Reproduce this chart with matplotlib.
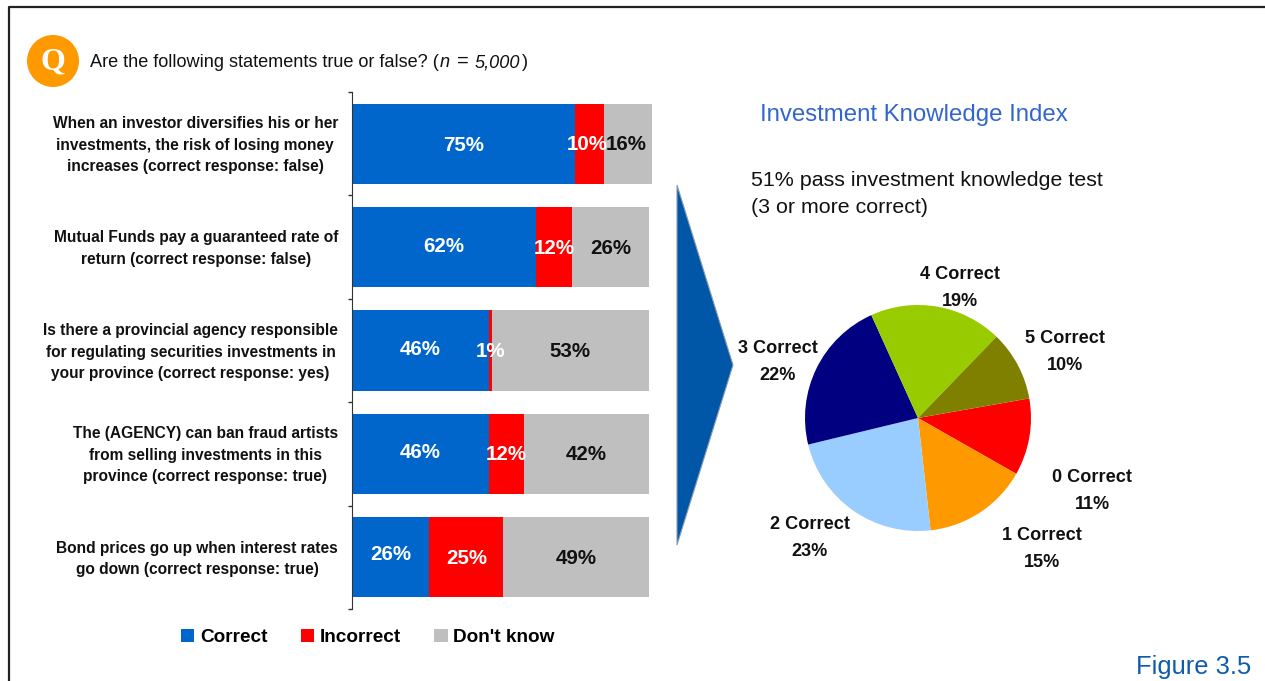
import matplotlib
matplotlib.use("Agg")
import matplotlib.pyplot as plt
from matplotlib.patches import Circle, Polygon

plt.rcParams['font.family'] = ['Liberation Sans', 'DejaVu Sans']

questions = [
    "When an investor diversifies his or her\ninvestments, the risk of losing money\nincreases (correct response: false)",
    "Mutual Funds pay a guaranteed rate of\nreturn (correct response: false)",
    "Is there a provincial agency responsible\nfor regulating securities investments in\nyour province (correct response: yes)",
    "The (AGENCY) can ban fraud artists\nfrom selling investments in this\nprovince (correct response: true)",
    "Bond prices go up when interest rates\ngo down (correct response: true)",
]
correct = [75, 62, 46, 46, 26]
incorrect = [10, 12, 1, 12, 25]
dont_know = [16, 26, 53, 42, 49]

pie_names = ["0 Correct", "1 Correct", "2 Correct", "3 Correct", "4 Correct", "5 Correct"]
pie_values = [11, 15, 23, 22, 19, 10]
pie_colors = ['#FF0000', '#FF9900', '#99CCFF', '#000080', '#99CC00', '#808000']
pie_label_xy = [(1092, 491), (1042, 549), (810, 538), (778, 362), (960, 288), (1065, 352)]

W, H = 1265, 681
fig = plt.figure(figsize=(W / 100, H / 100), dpi=100)


def px_axes(x0, y0, x1, y1):
    return fig.add_axes([x0 / W, 1 - y1 / H, (x1 - x0) / W, (y1 - y0) / H])


# overlay in pixel coords for frame, header and annotations
over = fig.add_axes([0, 0, 1, 1], zorder=5)
over.set_xlim(0, W)
over.set_ylim(H, 0)
over.axis('off')
over.plot([9, 9, W], [H, 7, 7], color='#222222', lw=1.6, clip_on=False)
over.add_patch(Circle((53, 61), 26, color='#FF9900', lw=0))
over.text(53, 62, "Q", color='white', fontsize=23, fontweight='bold',
          family='Liberation Serif', ha='center', va='center')

# title pieces, the reference sets n and 5,000 in italics
title_kw = dict(fontsize=13.05, color='#111111', va='baseline')
over.text(90, 67, "Are the following statements true or false? (", **title_kw)
over.text(440, 67, "n", style='italic', **title_kw)
over.text(457, 67, "=", **{**title_kw, 'fontsize': 14.5})
over.text(475, 67, "5,000", style='italic', **title_kw)
over.text(522, 67, ")", **title_kw)

over.text(760, 115, "Investment Knowledge Index", fontsize=17.3, color='#3366CC', va='center')
over.text(751, 194, "51% pass investment knowledge test\n(3 or more correct)", fontsize=15.4,
          color='#111111', va='center', linespacing=1.5)
over.text(1251, 667, "Figure 3.5", fontsize=18.4, color='#0F5CAB', ha='right', va='center')
over.add_patch(Polygon([(677, 185), (733, 365), (677, 545)], facecolor='#0057A8',
                       edgecolor='#8A9BB0', lw=0.8))

# stacked bars
ax = px_axes(352, 92, 652, 609)
n = len(questions)
ypos = list(range(n))
left2 = [a + b for a, b in zip(correct, incorrect)]
ax.barh(ypos, correct, 0.775, color='#0066CC', label='Correct')
ax.barh(ypos, incorrect, 0.775, left=correct, color='#FF0000', label='Incorrect')
ax.barh(ypos, dont_know, 0.775, left=left2, color='#BFBFBF', label="Don't know")
ax.set_xlim(0, 101)
ax.set_ylim(n - 0.5, -0.5)
ax.set_xticks([])
ax.set_yticks([i - 0.5 for i in range(n + 1)])
ax.set_yticklabels([])
ax.tick_params(axis='y', direction='out', length=3, width=1, color='#333333')
for s in ['top', 'right', 'bottom']:
    ax.spines[s].set_visible(False)
ax.spines['left'].set_color('#333333')

# hand nudges for labels that sit off-centre in the reference
correct_nudge = [.015, -.01, -.01, -.015, -.03]
first_row_shift = [-.8, 0, 0, 0, 0]
for i in ypos:
    ax.text(correct[i] / 2, i + correct_nudge[i], f"{correct[i]}%", color='white',
            fontsize=14.8, fontweight='bold', ha='center', va='center')
    ax.text(correct[i] + incorrect[i] / 2 + first_row_shift[i], i + .01, f"{incorrect[i]}%", color='white',
            fontsize=14.8, fontweight='bold', ha='center', va='center')
    ax.text(left2[i] + dont_know[i] / 2 + first_row_shift[i], i + .01, f"{dont_know[i]}%", color='#111111',
            fontsize=14.8, fontweight='bold', ha='center', va='center')
    over.text(338, 93.5 + 103.4 * (i + 0.5), questions[i], fontsize=11.2, fontweight='bold',
              color='#111111', ha='right', va='center', multialignment='center', linespacing=1.55)

ax.legend(loc='upper left', bbox_to_anchor=(-0.627, -0.005), ncol=3, frameon=False,
          handlelength=0.7, handleheight=0.7, handletextpad=0.3, columnspacing=1.75,
          prop={'size': 13.7, 'weight': 'bold'})

# pie
pax = px_axes(805, 305, 1031, 531)
pax.pie(pie_values, colors=pie_colors, startangle=10, counterclock=False, radius=1)
pax.set_xlim(-1, 1)
pax.set_ylim(-1, 1)
for name, v, (x, y) in zip(pie_names, pie_values, pie_label_xy):
    over.text(x, y, f"{name}\n{v}%", fontsize=13.1, fontweight='bold', color='#111111',
              ha='center', va='center', linespacing=1.75)

fig.savefig("out.png", dpi=100)
